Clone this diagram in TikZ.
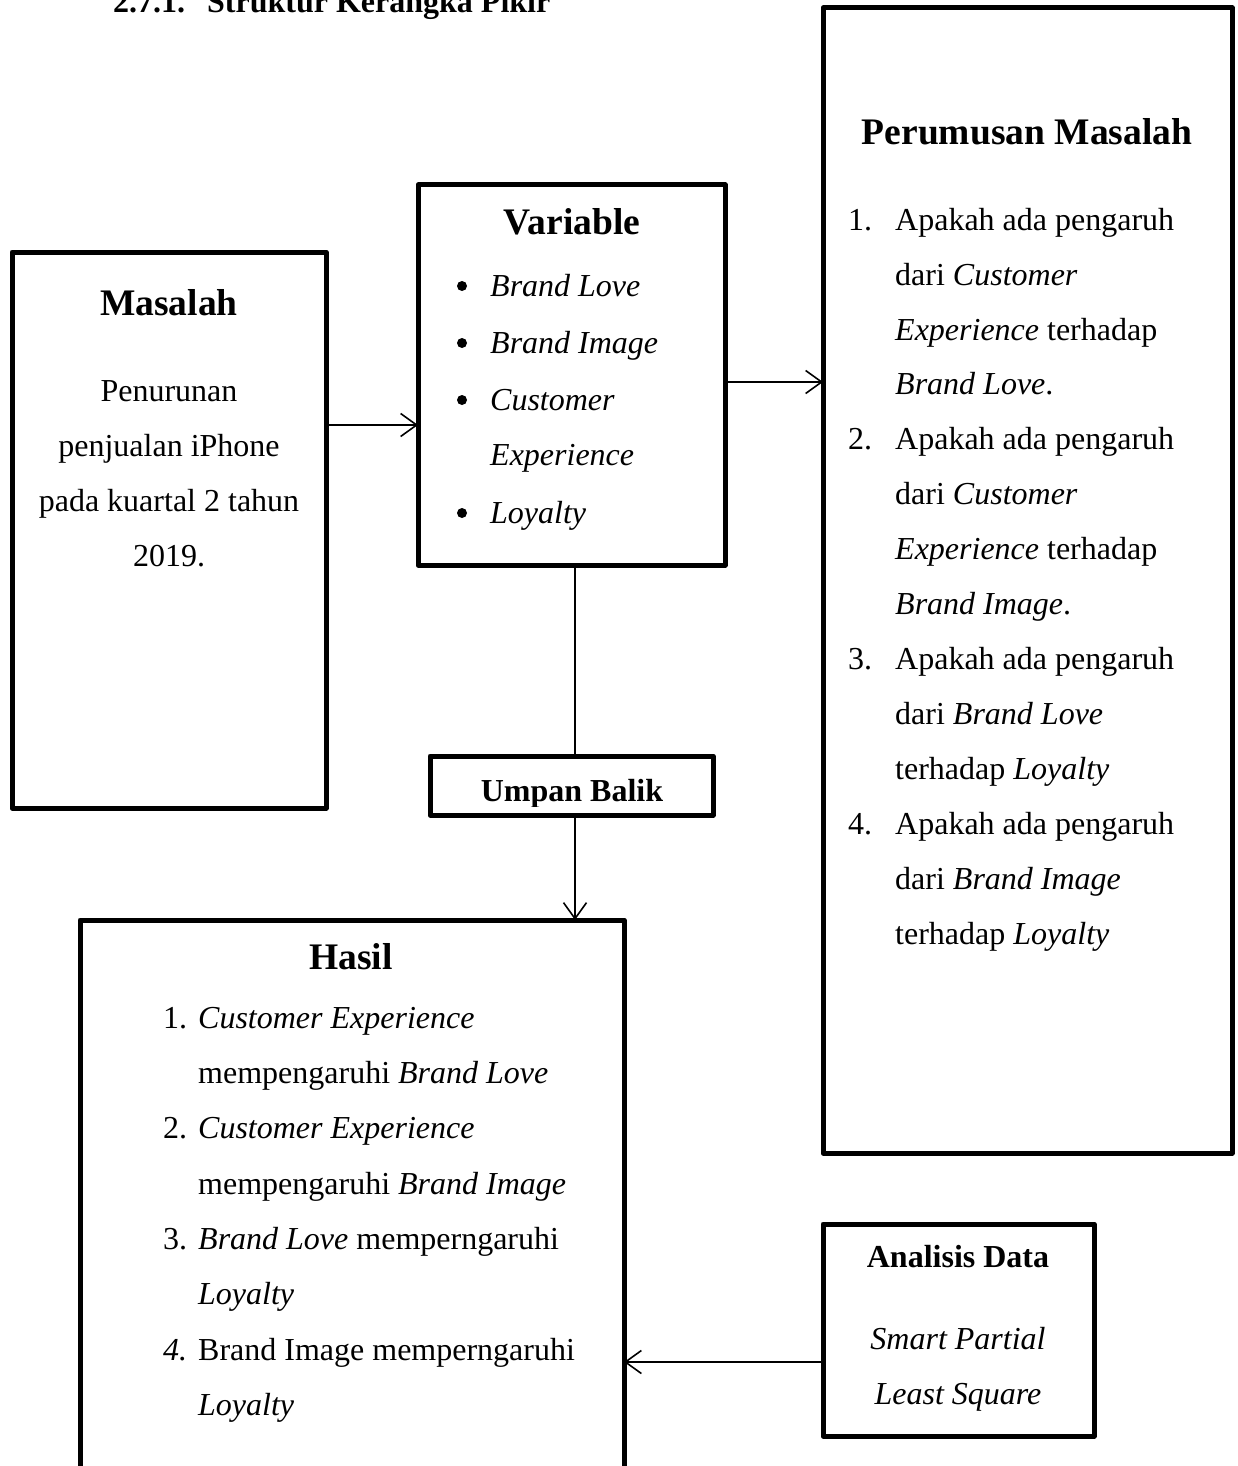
\documentclass[tikz,border=0pt]{standalone}
\usepackage{fontspec}
\setmainfont{Liberation Serif}
\usetikzlibrary{arrows.meta}
\begin{document}
\begin{tikzpicture}[x=1pt,y=-1pt,
  box/.style={line width=5pt,line join=round},
  conn/.style={line width=1.6pt},
  arr/.style={conn,-{Straight Barb[length=16pt,width=23pt,line width=1.6pt]}},
  txt/.style={inner sep=0pt,font=\fontsize{32}{55}\selectfont},
  hd/.style={inner sep=0pt,font=\fontsize{37.5}{44}\selectfont\bfseries},
  shd/.style={inner sep=0pt,font=\fontsize{32}{38}\selectfont\bfseries}]
\useasboundingbox (0,0) rectangle (1237,1466);
% title
\node[shd,anchor=base west] (titleN) at (113,12.5) {2.7.1.};
\node[shd,anchor=base west] (title) at (207,12.5) {Struktur Kerangka Pikir};
% boxes
\draw[box] (12,252) rectangle (326,808);
\draw[box] (418,185) rectangle (725,565);
\draw[box] (823,8) rectangle (1232,1153);
\draw[box] (430,756) rectangle (713,815);
\draw[box] (80,1475) -- (80,920) -- (624,920) -- (624,1475);
\draw[box] (823,1224) rectangle (1094,1436);
\coordinate (masE) at (326,425);
\coordinate (varW) at (418,425);
\coordinate (varE) at (725,382);
\coordinate (perW) at (823,382);
\coordinate (varS) at (575,565);
\coordinate (umpN) at (575,756);
\coordinate (umpS) at (575,815);
\coordinate (hasN) at (575,920);
\coordinate (anaW) at (823,1362);
\coordinate (hasE) at (624,1362);
\draw[arr] (masE) -- (varW);
\draw[arr] (varE) -- (perW);
\draw[conn] (varS) -- (umpN);
\draw[arr] (umpS) -- (hasN);
\draw[arr] (anaW) -- (hasE);
% Masalah
\node[hd,anchor=base] (masT) at (169,315) {Masalah};
\node[txt,anchor=base] (m1) at (169,401) {Penurunan};
\node[txt,anchor=base] (m2) at (169,456) {penjualan iPhone};
\node[txt,anchor=base] (m3) at (169,511) {pada kuartal 2 tahun};
\node[txt,anchor=base] (m4) at (169,566) {2019.};
% Variable
\node[hd,anchor=base] (varT) at (572,234) {Variable};
\foreach \y/\t [count=\i] in {296/Brand Love,353/Brand Image,410/Customer,465/Experience,523/Loyalty}{
  \node[txt,anchor=base west] (v\i) at (490,\y) {\itshape \t};
}
\foreach \y [count=\i] in {296,353,410,523}{
  \fill (462,\y-10) circle (5pt);
}
% Perumusan
\node[hd,anchor=base] (perT) at (1027,145) {Perumusan Masalah};
\foreach \y/\n [count=\i] in {230/1.,449/2.,669/3.,834/4.}{
  \node[txt,anchor=base west] (pn\i) at (848,\y) {\n};
}
\foreach \y/\t [count=\i] in {
 230/{Apakah ada pengaruh},
 285/{dari \textit{Customer}},
 340/{\textit{Experience} terhadap},
 394/{\textit{Brand Love}.},
 449/{Apakah ada pengaruh},
 504/{dari \textit{Customer}},
 559/{\textit{Experience} terhadap},
 614/{\textit{Brand Image}.},
 669/{Apakah ada pengaruh},
 724/{dari \textit{Brand Love}},
 779/{terhadap \textit{Loyalty}},
 834/{Apakah ada pengaruh},
 889/{dari \textit{Brand Image}},
 944/{terhadap \textit{Loyalty}}}{
  \node[txt,anchor=base west] (p\i) at (895,\y) {\t};
}
% Umpan Balik
\begin{scope}
\clip (432.5,758.5) rectangle (710.5,806);
\node[shd,anchor=base] (umpT) at (572,801) {Umpan Balik};
\end{scope}
% Hasil
\node[hd,anchor=base] (hasT) at (351,969) {Hasil};
\foreach \y/\n [count=\i] in {1028/1.,1138/2.,1249/3.,1360/\textit{4.}}{
  \node[txt,anchor=base west] (hn\i) at (163,\y) {\n};
}
\foreach \y/\t [count=\i] in {
 1028/{\textit{Customer Experience}},
 1083/{mempengaruhi \textit{Brand Love}},
 1138/{\textit{Customer Experience}},
 1194/{mempengaruhi \textit{Brand Image}},
 1249/{\textit{Brand Love} memperngaruhi},
 1304/{\textit{Loyalty}},
 1360/{Brand Image memperngaruhi},
 1415/{\textit{Loyalty}}}{
  \node[txt,anchor=base west] (h\i) at (198,\y) {\t};
}
% Analisis
\node[shd,anchor=base] (anaT) at (958,1267) {Analisis Data};
\node[txt,anchor=base] (a1) at (958,1349) {\itshape Smart Partial};
\node[txt,anchor=base] (a2) at (958,1404) {\itshape Least Square};
\end{tikzpicture}
\end{document}
